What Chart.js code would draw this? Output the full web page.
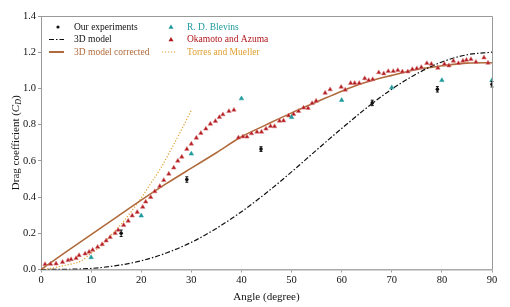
<!DOCTYPE html>
<html>
<head>
<meta charset="utf-8">
<script src="https://cdn.jsdelivr.net/npm/chart.js@4.4.0/dist/chart.umd.min.js"></script>
<style>
  html, body { margin: 0; padding: 0; background: #fff; }
  #wrap { width: 510px; height: 307px; position: relative; }
</style>
</head>
<body>
<div id="wrap"><canvas id="chart"></canvas></div>
<script>
// --- data ---
const expAngle = [16, 29.1, 43.9, 66.1, 79.1, 90];
const expCd    = [0.20, 0.497, 0.665, 0.92, 0.995, 1.023];
const expErr   = [0.018, 0.015, 0.013, 0.015, 0.015, 0.015];

const modelAngle = [0, 5, 10, 15, 20, 25, 30, 35, 40, 45, 50, 55, 60, 65, 70, 75, 80, 85, 90];
const modelCd    = [0, 0.001, 0.006, 0.021, 0.048, 0.091, 0.15, 0.227, 0.319, 0.424, 0.539, 0.66, 0.779, 0.893, 0.996, 1.081, 1.146, 1.186, 1.2];
const correctedCd = [0, 0.097, 0.193, 0.288, 0.383, 0.474, 0.56, 0.645, 0.733, 0.80, 0.865, 0.925, 0.985, 1.035, 1.072, 1.105, 1.125, 1.14, 1.142];

const blevinsAngle = [10, 20, 30, 40, 50, 60, 70, 80, 90];
const blevinsCd    = [0.067, 0.297, 0.639, 0.944, 0.841, 0.935, 1.005, 1.045, 1.045];

const okaAngle = [0.8, 1.9, 3.0, 4.3, 5.4, 6.0, 7.0, 7.6, 8.8, 9.6, 10.3, 11.3, 12.2, 13.0, 13.8, 14.8, 15.4, 16.5, 17.4, 18.2,
  19.2, 20.3, 20.9, 21.9, 22.7, 23.7, 24.5, 25.5, 26.5, 27.3, 28.1, 29.1, 30.0, 31.0, 31.9, 32.9, 33.8, 34.8, 35.6, 36.3,
  37.5, 38.5, 39.4, 40.3, 41.1, 42.0, 43.1, 44.0, 44.9, 45.8, 46.6, 47.6, 48.4, 49.4, 50.4, 51.4, 52.4, 53.3, 54.1, 54.9,
  56.7, 57.7, 59.9, 60.7, 61.8, 62.6, 63.5, 64.6, 65.4, 66.2, 67.4, 68.4, 69.3, 70.3, 71.2, 72.1, 73.2, 74.1, 75.0, 75.9,
  77.0, 77.9, 79.2, 80.5, 81.4, 82.3, 83.3, 84.2, 84.9, 85.8, 86.8, 88.4, 89.2];
const okaCd = [0.029, 0.03, 0.032, 0.041, 0.051, 0.056, 0.062, 0.078, 0.087, 0.097, 0.108, 0.124, 0.139, 0.159, 0.178, 0.2, 0.218, 0.245, 0.268, 0.297,
  0.317, 0.345, 0.374, 0.399, 0.431, 0.46, 0.493, 0.528, 0.562, 0.6, 0.622, 0.665, 0.694, 0.727, 0.753, 0.777, 0.804, 0.819, 0.841, 0.856,
  0.874, 0.881, 0.728, 0.734, 0.733, 0.751, 0.76, 0.76, 0.777, 0.792, 0.79, 0.821, 0.822, 0.85, 0.858, 0.874, 0.893, 0.891, 0.918, 0.931,
  0.975, 0.994, 1.008, 0.992, 1.029, 1.029, 1.029, 1.055, 1.045, 1.05, 1.088, 1.082, 1.095, 1.095, 1.1, 1.093, 1.093, 1.106, 1.11, 1.117,
  1.139, 1.135, 1.113, 1.135, 1.126, 1.152, 1.139, 1.152, 1.157, 1.161, 1.146, 1.17, 1.141];

const torresAngle = [0, 2, 4, 6, 8, 10, 12, 14, 16, 18, 20, 22, 24, 26, 28, 30];
const torresCd    = [0, 0.006, 0.018, 0.03, 0.047, 0.09, 0.13, 0.19, 0.25, 0.32, 0.395, 0.48, 0.565, 0.665, 0.77, 0.88];

const xTicks = [0, 10, 20, 30, 40, 50, 60, 70, 80, 90];
const yTicks = [0.0, 0.2, 0.4, 0.6, 0.8, 1.0, 1.2, 1.4];

const BROWN = '#b06a3b';
const RED = '#b0161c';
const TEAL = '#1f9a9c';
const GOLD = '#e0a030';
const SERIF = '"Liberation Serif", "DejaVu Serif", serif';

const pts = (xs, ys) => xs.map((x, i) => ({ x: x, y: ys[i] }));

// error bars, frame, legend and y title
const extras = {
    id: 'extras',
    afterDatasetsDraw(chart) {
        const ctx = chart.ctx;
        const xs = chart.scales.x, ys = chart.scales.y;
        ctx.save();
        ctx.strokeStyle = '#111';
        ctx.lineWidth = 1;
        expAngle.forEach((a, i) => {
            const px = xs.getPixelForValue(a);
            const top = ys.getPixelForValue(expCd[i] + expErr[i]);
            const bot = ys.getPixelForValue(expCd[i] - expErr[i]);
            ctx.beginPath();
            ctx.moveTo(px, top); ctx.lineTo(px, bot);
            ctx.moveTo(px - 1.5, top); ctx.lineTo(px + 1.5, top);
            ctx.moveTo(px - 1.5, bot); ctx.lineTo(px + 1.5, bot);
            ctx.stroke();
        });
        ctx.restore();
    },
    afterDraw(chart) {
        const ctx = chart.ctx;
        const a = chart.chartArea;
        ctx.save();
        // top / right spines
        ctx.strokeStyle = '#999';
        ctx.lineWidth = 1;
        ctx.beginPath();
        ctx.moveTo(a.left, a.top + 0.5); ctx.lineTo(a.right + 0.5, a.top + 0.5); ctx.lineTo(a.right + 0.5, a.bottom);
        ctx.stroke();

        // legend
        ctx.font = '9.5px ' + SERIF;
        ctx.textBaseline = 'middle';
        const rows = [27, 39.5, 52];
        const c1 = 49, c2 = 162;
        ctx.fillStyle = '#111';
        ctx.beginPath(); ctx.arc(c1 + 9, rows[0], 1.6, 0, Math.PI * 2); ctx.fill();
        ctx.fillText('Our experiments', 74, rows[0]);

        ctx.strokeStyle = '#111'; ctx.lineWidth = 1.2;
        ctx.setLineDash([5, 2, 1.5, 2]);
        ctx.beginPath(); ctx.moveTo(c1, rows[1]); ctx.lineTo(c1 + 15, rows[1]); ctx.stroke();
        ctx.fillText('3D model', 74, rows[1]);

        ctx.setLineDash([]);
        ctx.strokeStyle = BROWN; ctx.lineWidth = 2;
        ctx.beginPath(); ctx.moveTo(c1, rows[2]); ctx.lineTo(c1 + 15, rows[2]); ctx.stroke();
        ctx.fillStyle = BROWN;
        ctx.fillText('3D model corrected', 74, rows[2]);

        const tri = (x, y, col) => {
            ctx.fillStyle = col;
            ctx.beginPath(); ctx.moveTo(x, y - 2.6); ctx.lineTo(x + 2.5, y + 1.8); ctx.lineTo(x - 2.5, y + 1.8); ctx.closePath(); ctx.fill();
        };
        tri(c2 + 9, rows[0], TEAL);
        ctx.fillStyle = TEAL; ctx.fillText('R. D. Blevins', 187, rows[0]);
        tri(c2 + 9, rows[1], RED);
        ctx.fillStyle = RED; ctx.fillText('Okamoto and Azuma', 187, rows[1]);
        ctx.strokeStyle = GOLD; ctx.lineWidth = 1.2;
        ctx.setLineDash([1.2, 1.8]);
        ctx.beginPath(); ctx.moveTo(c2, rows[2]); ctx.lineTo(c2 + 15, rows[2]); ctx.stroke();
        ctx.setLineDash([]);
        ctx.fillStyle = GOLD; ctx.fillText('Torres and Mueller', 187, rows[2]);

        // y axis title with italic C and subscript D
        ctx.translate(16, (a.top + a.bottom) / 2);
        ctx.rotate(-Math.PI / 2);
        ctx.fillStyle = '#111';
        const f = '11px ' + SERIF, fi = 'italic 11px ' + SERIF, fs = 'italic 8px ' + SERIF;
        const parts = [['Drag coefficient (', f, 0], ['C', fi, 0], ['D', fs, 2.5], [')', f, 0]];
        let w = 0;
        parts.forEach(p => { ctx.font = p[1]; w += ctx.measureText(p[0]).width; });
        let x = -w / 2;
        parts.forEach(p => { ctx.font = p[1]; ctx.fillText(p[0], x, p[2]); x += ctx.measureText(p[0]).width; });
        ctx.restore();

        // x axis title
        ctx.save();
        ctx.font = '11px ' + SERIF;
        ctx.fillStyle = '#111';
        ctx.textAlign = 'center';
        ctx.textBaseline = 'middle';
        ctx.fillText('Angle (degree)', (a.left + a.right) / 2, 297);
        ctx.restore();
    }
};

const ctx = document.getElementById('chart').getContext('2d');
Chart.defaults.font.family = SERIF;
Chart.defaults.color = '#111';

new Chart(ctx, {
    type: 'scatter',
    data: {
        datasets: [
            {
                label: 'Our experiments',
                data: pts(expAngle, expCd),
                pointStyle: 'circle', pointRadius: 1.8,
                backgroundColor: '#111', borderColor: '#111', borderWidth: 0,
                order: 1
            },
            {
                label: 'R. D. Blevins',
                data: pts(blevinsAngle, blevinsCd),
                pointStyle: 'triangle', pointRadius: 2.6,
                backgroundColor: TEAL, borderColor: TEAL, borderWidth: 0.5,
                order: 2
            },
            {
                label: 'Okamoto and Azuma',
                data: pts(okaAngle, okaCd),
                pointStyle: 'triangle', pointRadius: 2.6,
                backgroundColor: RED, borderColor: '#d87a7a', borderWidth: 0.6,
                order: 3
            },
            {
                label: '3D model',
                data: pts(modelAngle, modelCd),
                showLine: true, pointRadius: 0,
                borderColor: '#111', borderWidth: 1.2,
                borderDash: [5, 2, 1.5, 2],
                cubicInterpolationMode: 'monotone',
                order: 4
            },
            {
                label: '3D model corrected',
                data: pts(modelAngle, correctedCd),
                showLine: true, pointRadius: 0,
                borderColor: BROWN, borderWidth: 1.6,
                cubicInterpolationMode: 'monotone',
                order: 5
            },
            {
                label: 'Torres and Mueller',
                data: pts(torresAngle, torresCd),
                showLine: true, pointRadius: 0,
                borderColor: GOLD, borderWidth: 1.2,
                borderDash: [1.2, 1.8],
                cubicInterpolationMode: 'monotone',
                order: 6
            }
        ]
    },
    options: {
        responsive: true,
        maintainAspectRatio: false,
        animation: false,
        layout: { padding: { top: 16, right: 18, left: 0, bottom: 0 } },
        plugins: {
            legend: { display: false },
            tooltip: { enabled: false }
        },
        scales: {
            x: {
                type: 'linear', min: 0, max: 90,
                afterFit: s => { s.height = 37.5; },
                afterBuildTicks: s => { s.ticks = xTicks.map(v => ({ value: v })); },
                ticks: { font: { size: 10.5 }, padding: 1, maxRotation: 0, callback: v => v },
                grid: { drawOnChartArea: false, tickLength: 3, color: '#999' },
                border: { color: '#aaa', width: 1.5 }
            },
            y: {
                type: 'linear', min: 0, max: 1.4,
                afterFit: s => { s.width = 41; },
                afterBuildTicks: s => { s.ticks = yTicks.map(v => ({ value: v })); },
                ticks: { font: { size: 10.5 }, padding: 2, callback: v => v.toFixed(1) },
                grid: { drawOnChartArea: false, tickLength: 3, color: '#999' },
                border: { color: '#999', width: 1 }
            }
        }
    },
    plugins: [extras]
});
</script>
</body>
</html>
